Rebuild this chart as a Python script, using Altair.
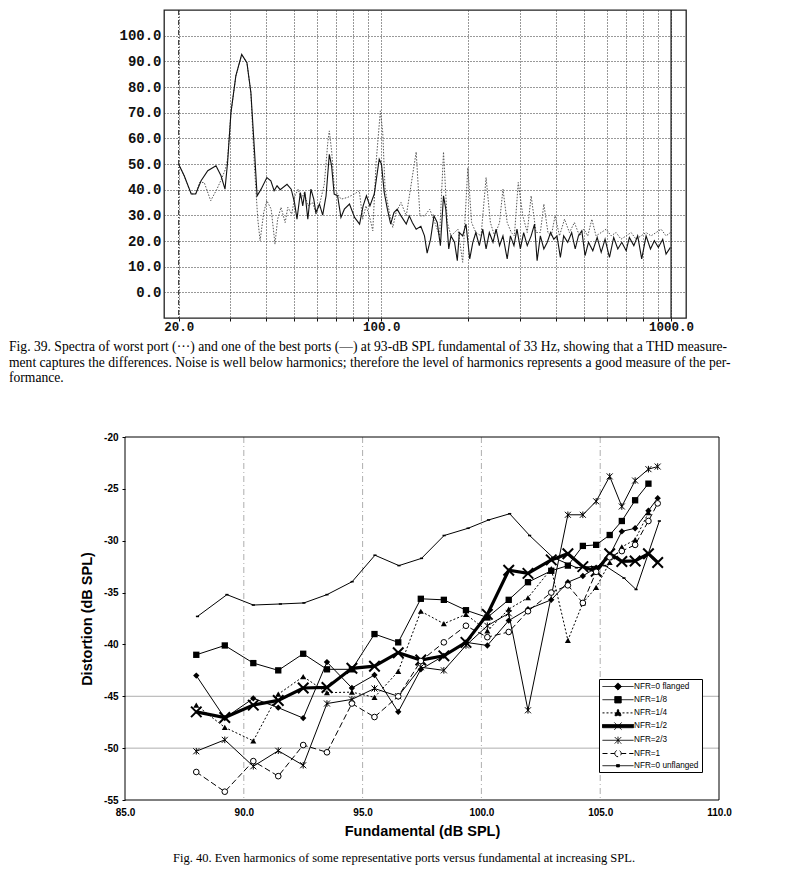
import altair as alt
import pandas as pd

# ---------------- Fig. 39 : spectra (Hz, dB) ----------------
best_f = [20.0, 20.9, 22.1, 22.9, 23.9, 25.2, 26.9, 28.0, 28.9, 29.5, 30.3, 31.5, 33.0, 34.4, 35.5, 36.5,
          37.3, 38.5, 40.3, 41.6, 42.7, 43.7, 44.8, 47.3, 48.9, 50.2, 51.2, 52.6, 53.6, 54.5, 55.8, 57.2,
          58.5, 59.5, 61.2, 62.8, 64.5, 66.2, 67.4, 68.8, 70.7, 72.6, 74.6, 77.7, 80.9, 84.2, 86.6, 88.9,
          91.4, 94.6, 98.4, 100.2, 102.4, 105.0, 107.8, 110.6, 113.5,
          117, 122, 125, 128, 132, 137, 141, 144, 148, 152, 156, 160, 164, 167, 171, 174, 179, 183, 186, 191,
          196, 202, 207, 212, 218, 224, 230, 236, 243, 249, 256, 263, 272, 279, 287, 294, 302, 310, 319, 329,
          338, 345, 354, 364, 374, 384, 394, 404, 415, 426, 440, 454, 467, 479, 492, 505, 519, 537, 556, 574,
          592, 613, 634, 655, 676, 700, 718, 744, 767, 792, 820, 849, 876, 904, 936, 961, 995]
best_db = [49.9, 45.4, 38.3, 38.3, 43.5, 47.4, 49.3, 45.4, 40.2, 50.6, 70.0, 84.3, 92.7, 89.5, 77.8, 55.8,
           37.6, 40.2, 44.7, 43.4, 39.6, 41.5, 40.0, 42.1, 40.2, 35.0, 28.5, 38.9, 33.7, 39.2, 28.5, 40.2,
           36.3, 31.1, 34.4, 30.1, 37.6, 53.8, 49.3, 38.3, 37.6, 29.2, 32.4, 34.4, 29.2, 26.6, 33.7, 37.6,
           33.7, 38.3, 51.9, 49.9, 38.9, 32.4, 26.6, 31.1, 32.4,
           29.8, 26.6, 29.8, 27.2, 24.6, 25.7, 22.0, 15.3, 20.7, 29.8, 27.2, 18.2, 37.6, 32.4, 16.9, 22.0, 19.5, 12.3, 23.3, 22.0,
           26.6, 13.0, 19.5, 23.3, 18.2, 24.6, 16.9, 23.3, 19.5, 24.6, 18.2, 22.0, 13.0, 22.0, 18.2, 24.6, 16.9, 23.3, 18.2, 22.0,
           26.6, 12.3, 22.0, 16.9, 19.5, 23.3, 20.7, 22.0, 13.6, 22.0, 19.5, 23.3, 16.9, 22.0, 24.0, 14.3, 19.5, 16.2, 21.4, 15.6,
           20.7, 13.6, 21.4, 16.9, 19.5, 16.2, 21.4, 18.2, 22.0, 13.0, 22.0, 16.9, 20.1, 17.5, 20.7, 14.9, 17.5]

worst_f = [20.0, 20.9, 22.1, 22.9, 23.6, 24.5, 25.8, 27.1, 28.1, 29.0, 29.5, 30.3, 31.5, 33.0, 34.4, 35.5,
           36.5, 37.5, 38.2, 39.3, 40.3, 41.7, 43.0, 43.9, 45.1, 46.6, 47.6, 49.1, 50.4, 51.7, 52.9, 54.3,
           55.8, 58.0, 59.6, 61.1, 63.6, 65.4, 66.2, 67.5, 68.9, 72.7, 76.6, 80.8, 84.0, 86.3, 88.6, 91.0,
           93.5, 96.0, 99.3, 101.2, 103.1, 106.7, 109.6, 112.5,
           117, 122, 132, 136, 141, 147, 153, 159, 164, 169, 174, 184, 191, 199, 205, 212, 221, 230, 238, 246,
           256, 263, 272, 281, 288, 297, 308, 319, 329, 342, 354, 364, 376, 386, 398, 412, 429, 446, 464, 483,
           500, 516, 533, 551, 574, 597, 621, 646, 672, 700, 728, 757, 788, 820, 853, 888, 924, 961, 995]
worst_db = [49.9, 45.4, 38.3, 38.5, 42.8, 42.8, 35.7, 40.2, 44.1, 48.0, 52.0, 70.0, 84.3, 92.5, 89.5, 77.8,
            49.3, 28.5, 20.1, 31.1, 35.7, 32.4, 18.8, 28.5, 33.1, 27.2, 33.1, 30.5, 37.6, 40.2, 36.3, 38.9,
            33.7, 35.0, 30.5, 33.7, 42.1, 58.4, 62.9, 54.5, 40.2, 36.3, 37.0, 38.3, 39.6, 28.5, 33.7, 29.8,
            24.0, 50.6, 70.7, 62.3, 40.2, 31.1, 25.3, 31.1,
            35.0, 29.8, 54.7, 29.8, 29.8, 32.4, 27.2, 22.0, 54.7, 27.2, 22.0, 24.6, 11.7, 48.6, 27.2, 23.3, 22.0, 44.7, 27.2, 22.0,
            27.2, 40.2, 27.2, 23.3, 22.0, 42.8, 29.8, 23.3, 37.6, 23.3, 23.3, 34.4, 23.3, 22.0, 29.8, 22.0, 28.5, 23.3, 27.2, 22.0,
            24.6, 22.0, 28.5, 22.0, 23.3, 24.6, 22.0, 23.3, 20.7, 22.0, 23.3, 20.7, 22.0, 23.3, 22.0, 23.3, 24.6, 22.0, 23.3]

freq_ticks = [20, 30, 40, 50, 60, 70, 80, 90, 100, 200, 300, 400, 500, 600, 700, 800, 900, 1000]
db_ticks = [0, 10, 20, 30, 40, 50, 60, 70, 80, 90, 100]

caption39 = ("Fig. 39. Spectra of worst port (\u00b7\u00b7\u00b7) and one of the best ports (\u2014) at 93-dB SPL fundamental of 33 Hz, showing that a THD measure-\n"
             "ment captures the differences. Noise is well below harmonics; therefore the level of harmonics represents a good measure of the per-\n"
             "formance.")

# ---------------- Fig. 40 : distortion vs fundamental ----------------
series_names = ["NFR=0 flanged", "NFR=1/8", "NFR=1/4", "NFR=1/2", "NFR=2/3", "NFR=1", "NFR=0 unflanged"]

flanged_x = [88.0, 89.2, 90.4, 91.45, 92.5, 93.5, 94.55, 95.5, 96.5, 97.45, 98.42, 99.35, 100.25, 101.15,
             101.96, 102.94, 103.64, 104.27, 104.83, 105.4, 105.91, 106.47, 107.03, 107.42]
flanged_y = [-43.0, -47.1, -45.2, -46.1, -47.1, -41.7, -44.2, -42.95, -46.5, -42.4, -41.1, -39.8, -40.1, -37.7,
             -36.6, -35.7, -34.0, -33.4, -32.6, -31.4, -29.1, -28.8, -27.1, -25.9]
n18_x = [88.0, 89.2, 90.4, 91.45, 92.5, 93.5, 94.55, 95.5, 96.5, 97.45, 98.42, 99.35, 100.25, 101.15,
         101.96, 102.94, 103.64, 104.27, 104.83, 105.4, 105.91, 106.47, 107.03]
n18_y = [-41.0, -40.1, -41.8, -42.5, -40.9, -42.4, -42.4, -39.0, -39.8, -35.6, -35.7, -36.7, -37.4, -35.7,
         -34.0, -32.9, -32.4, -30.5, -30.4, -29.45, -28.1, -26.1, -24.5]
n14_x = [88.0, 89.2, 90.4, 91.45, 92.5, 93.5, 94.55, 95.5, 96.5, 97.45, 98.42, 99.35, 100.25, 101.15,
         101.96, 102.94, 103.64, 104.27, 104.83, 105.4, 105.91, 106.47, 107.03]
n14_y = [-45.85, -48.0, -49.3, -44.8, -43.1, -44.65, -44.6, -45.1, -42.6, -36.8, -38.0, -37.1, -38.7, -36.6,
         -35.5, -32.7, -39.6, -36.0, -34.5, -32.1, -30.6, -29.9, -27.3]
n12_x = [88.0, 89.2, 90.4, 91.45, 92.5, 93.5, 94.55, 95.5, 96.5, 97.45, 98.42, 99.35, 100.25, 101.15,
         101.96, 102.94, 103.64, 104.27, 104.83, 105.4, 105.91, 106.47, 107.03, 107.42]
n12_y = [-46.5, -47.05, -45.85, -45.4, -44.2, -44.15, -42.3, -42.1, -40.8, -41.5, -41.1, -39.8, -37.1, -32.85,
         -33.15, -31.85, -31.25, -32.5, -32.95, -31.25, -32.0, -31.95, -31.25, -32.1]
n23_x = [88.0, 89.2, 90.4, 91.45, 92.5, 93.5, 94.55, 95.5, 96.5, 97.45, 98.42, 99.35, 100.25, 101.15,
         101.96, 103.64, 104.27, 104.83, 105.4, 105.91, 106.47, 107.03, 107.42]
n23_y = [-50.3, -49.2, -51.75, -50.25, -51.65, -45.7, -45.3, -44.25, -45.0, -42.2, -42.5, -40.1, -38.2, -37.0,
         -46.35, -27.5, -27.5, -26.2, -23.8, -26.7, -24.2, -23.1, -22.85]
n1_x = [88.0, 89.2, 90.4, 91.45, 92.5, 93.5, 94.55, 95.5, 96.5, 97.45, 98.42, 99.35, 100.25, 101.15,
        101.96, 102.94, 103.64, 104.27, 104.83, 105.4, 105.91, 106.47, 107.03, 107.42]
n1_y = [-52.3, -54.2, -51.25, -52.7, -49.7, -50.4, -45.7, -47.0, -45.0, -41.6, -39.8, -38.2, -39.3, -38.8,
        -36.8, -35.0, -34.3, -36.0, -33.0, -31.6, -31.0, -30.4, -28.1, -26.4]
unfl_x = [88.05, 89.29, 90.4, 91.54, 92.53, 93.5, 94.56, 95.52, 96.53, 97.48, 98.43, 99.44, 100.3, 101.19,
          102.03, 103.0, 104.0, 105.2, 106.0, 106.51, 107.49]
unfl_y = [-37.3, -35.2, -36.2, -36.1, -36.0, -35.2, -33.95, -31.4, -32.4, -31.7, -29.5, -28.8, -28.0, -27.4,
          -29.5, -31.6, -32.6, -32.4, -33.6, -34.7, -28.1]

fund_ticks = [85, 90, 95, 100, 105, 110]
dist_ticks = [-20, -25, -30, -35, -40, -45, -50, -55]
vgrid_vals = [90, 95, 100, 105]
hgrid_vals = [-45, -50]

caption40 = "Fig. 40. Even harmonics of some representative ports versus fundamental at increasing SPL."

# ---------------- build tables ----------------
top_df = pd.DataFrame({
    "f": best_f + worst_f,
    "db": best_db + worst_db,
    "port": ["best"] * len(best_f) + ["worst"] * len(worst_f),
})

pairs = [(flanged_x, flanged_y), (n18_x, n18_y), (n14_x, n14_y), (n12_x, n12_y),
         (n23_x, n23_y), (n1_x, n1_y), (unfl_x, unfl_y)]
rows = []
for name, (xs, ys) in zip(series_names, pairs):
    for a, b in zip(xs, ys):
        rows.append({"series": name, "fund": a, "dist": b})
bot_df = pd.DataFrame(rows)

# ---------------- top chart ----------------
xs_top = alt.Scale(type="log", domain=[17.8, 1126], nice=False)
ys_top = alt.Scale(domain=[-10, 110], nice=False, zero=False)

x_axis_top = alt.Axis(
    values=freq_ticks,
    labelExpr="datum.value == 20 || datum.value == 100 || datum.value == 1000 ? format(datum.value, '.1f') : ''",
    grid=True, gridDash=[1, 2], gridColor="#333", gridWidth=1,
    domain=False, ticks=True, tickSize=3, tickColor="#111",
    labelFont="Liberation Mono", labelFontWeight="bold", labelFontSize=12.5, labelColor="#111",
    labelPadding=-1, labelFlush=False, labelOverlap=False, title=None)
y_axis_top = alt.Axis(
    values=db_ticks, labelExpr="format(datum.value, '.1f')",
    grid=True, gridDash=[1, 2], gridColor="#333", gridWidth=1,
    domain=False, ticks=False, tickCount=12,
    labelFont="Liberation Mono", labelFontWeight="bold", labelFontSize=14, labelColor="#111",
    labelPadding=3, labelOverlap=False, labelFlush=False, labelSeparation=0, labelBound=False,
    title=None)

worst_line = alt.Chart(top_df).transform_filter(alt.datum.port == "worst").mark_line(
    color="#555", strokeWidth=1, strokeDash=[1.5, 1.5]).encode(
    x=alt.X("f:Q", scale=xs_top, axis=x_axis_top),
    y=alt.Y("db:Q", scale=ys_top, axis=y_axis_top))
best_line = alt.Chart(top_df).transform_filter(alt.datum.port == "best").mark_line(
    color="#111", strokeWidth=1.1).encode(
    x=alt.X("f:Q", scale=xs_top, axis=x_axis_top),
    y=alt.Y("db:Q", scale=ys_top, axis=y_axis_top))
edge_df = pd.DataFrame({"f": [20, 1000], "kind": ["a", "b"]})
rule20 = alt.Chart(edge_df).transform_filter(alt.datum.kind == "a").mark_rule(
    color="#222", strokeWidth=1, strokeDash=[5, 2, 1, 2]).encode(
    x=alt.X("f:Q", scale=xs_top, axis=x_axis_top))
rule1000 = alt.Chart(edge_df).transform_filter(alt.datum.kind == "b").mark_rule(
    color="#111", strokeWidth=1.2).encode(x=alt.X("f:Q", scale=xs_top, axis=x_axis_top))
cap39 = alt.Chart(pd.DataFrame({"t": [caption39]})).mark_text(
    align="left", baseline="top", font="Liberation Serif", fontSize=13.6, lineHeight=15.5,
    lineBreak="\n", color="black").encode(x=alt.value(-155), y=alt.value(330), text="t:N")

top = alt.layer(rule20, worst_line, best_line, rule1000, cap39).properties(
    width=522, height=308, view=alt.ViewBackground(stroke="#222", strokeWidth=1.3))

# ---------------- bottom chart ----------------
xs_b = alt.Scale(domain=[85, 110], range=[-39, 555], nice=False, zero=False)
ys_b = alt.Scale(domain=[-55, -20], nice=False, zero=False)

x_axis_b = alt.Axis(
    values=fund_ticks, format=".1f", grid=False, domain=False, ticks=False,
    labelFont="Liberation Sans", labelFontWeight="bold", labelFontSize=10, labelColor="black",
    labelPadding=7, labelFlush=False,
    title="Fundamental (dB SPL)", titleFont="Liberation Sans", titleFontSize=14.5,
    titleFontWeight="bold", titleColor="black", titlePadding=7)
y_axis_b = alt.Axis(
    values=dist_ticks, labelExpr="'' + datum.value", offset=39, grid=False, domain=False,
    ticks=True, tickSize=3, tickColor="black",
    labelFont="Liberation Sans", labelFontWeight="bold", labelFontSize=10, labelColor="black",
    labelPadding=4, labelOverlap=False,
    title="Distortion (dB SPL)", titleFont="Liberation Sans", titleFontSize=14.5,
    titleFontWeight="bold", titleColor="black", titlePadding=9)

vgrid = alt.Chart(pd.DataFrame({"v": vgrid_vals})).mark_rule(
    color="#999", strokeWidth=0.8, strokeDash=[6, 3, 1, 3]).encode(x=alt.X("v:Q", scale=xs_b))
hgrid = alt.Chart(pd.DataFrame({"v": hgrid_vals, "a": [85, 85], "b": [110, 110]})).mark_rule(
    color="#999", strokeWidth=0.8).encode(
    y=alt.Y("v:Q", scale=ys_b), x=alt.X("a:Q", scale=xs_b), x2="b:Q")
frame = alt.Chart(pd.DataFrame({"a": [85], "b": [110], "c": [-55], "d": [-20]})).mark_rect(
    fillOpacity=0, stroke="black", strokeWidth=1).encode(
    x=alt.X("a:Q", scale=xs_b, axis=x_axis_b), x2="b:Q",
    y=alt.Y("c:Q", scale=ys_b, axis=y_axis_b), y2="d:Q")

X_PATH = "M-1,-1L1,1M-1,1L1,-1"
AST_PATH = "M-1,-1L1,1M-1,1L1,-1M0,-1.1V1.1"
DASH_PATH = "M-1,-0.5H1V0.5H-1Z"

line_style = {
    "NFR=0 flanged": dict(strokeWidth=1),
    "NFR=1/8": dict(strokeWidth=1),
    "NFR=1/4": dict(strokeWidth=1, strokeDash=[2, 2]),
    "NFR=1/2": dict(strokeWidth=3.2),
    "NFR=2/3": dict(strokeWidth=1),
    "NFR=1": dict(strokeWidth=1, strokeDash=[6, 3]),
    "NFR=0 unflanged": dict(strokeWidth=1),
}
point_style = {
    "NFR=0 flanged": dict(shape="diamond", size=40, filled=True, color="black"),
    "NFR=1/8": dict(shape="square", size=40, filled=True, color="black"),
    "NFR=1/4": dict(shape="triangle-up", size=36, filled=True, color="black"),
    "NFR=1/2": dict(shape=X_PATH, size=110, filled=False, color="black", strokeWidth=2),
    "NFR=2/3": dict(shape=AST_PATH, size=36, filled=False, color="black", strokeWidth=1),
    "NFR=1": dict(shape="circle", size=32, fill="white", stroke="black", strokeWidth=1),
    "NFR=0 unflanged": dict(shape=DASH_PATH, size=10, filled=True, color="black"),
}

series_layers = []
for name in series_names:
    base = alt.Chart(bot_df).transform_filter(alt.datum.series == name)
    ln = base.mark_line(color="black", **line_style[name]).encode(
        x=alt.X("fund:Q", scale=xs_b), y=alt.Y("dist:Q", scale=ys_b))
    pt = base.mark_point(opacity=1, **point_style[name]).encode(
        x=alt.X("fund:Q", scale=xs_b), y=alt.Y("dist:Q", scale=ys_b))
    series_layers += [ln, pt]

# legend built by the library from a layer with no visible marks
C = 2.875
leg_shapes = [
    f"M-1,0H6.75M{C},-0.9L{C+0.9},0L{C},0.9L{C-0.9},0Z",
    f"M-1,0H6.75M{C-0.8},-0.8H{C+0.8}V0.8H{C-0.8}Z",
    f"M-1,0H6.75M{C},-0.9L{C+0.9},0.7H{C-0.9}Z",
    f"M-1,-0.4H6.75V0.4H-1ZM{C-0.9},-0.9L{C+0.9},0.9M{C-0.9},0.9L{C+0.9},-0.9",
    f"M-1,0H6.75M{C-0.8},-0.8L{C+0.8},0.8M{C-0.8},0.8L{C+0.8},-0.8M{C},-0.9V0.9",
    f"M-1,0H{C-0.8}M{C+0.8},0H6.75M{C-0.8},0A0.8,0.8 0 1,0 {C+0.8},0A0.8,0.8 0 1,0 {C-0.8},0Z",
    f"M-1,0H6.75M{C-0.35},-0.3H{C+0.35}V0.3H{C-0.35}Z",
]
leg = alt.Legend(title=None, orient="none", legendX=435, legendY=242, symbolSize=64,
                 labelFont="Liberation Sans", labelFontSize=8.2, labelColor="black",
                 labelOffset=23, rowPadding=1.2, padding=3, strokeColor="black",
                 fillColor="white", symbolStrokeColor="black", symbolStrokeWidth=1,
                 labelLimit=200)
legend_layer = alt.Chart(bot_df).transform_filter("false").mark_point(
    stroke="black", strokeWidth=1, opacity=1).encode(
    x=alt.X("fund:Q", scale=xs_b), y=alt.Y("dist:Q", scale=ys_b),
    shape=alt.Shape("series:N", scale=alt.Scale(domain=series_names, range=leg_shapes), legend=leg),
    strokeDash=alt.StrokeDash("series:N", scale=alt.Scale(
        domain=series_names, range=[[1, 0], [1, 0], [2, 2], [1, 0], [1, 0], [5, 3], [1, 0]]), legend=leg),
    fill=alt.Fill("series:N", scale=alt.Scale(
        domain=series_names, range=["black", "black", "black", "black", "black", "white", "black"]), legend=leg),
    stroke=alt.Stroke("series:N", scale=alt.Scale(
        domain=series_names, range=["black"] * 7), legend=leg),
)

cap40 = alt.Chart(pd.DataFrame({"t": [caption40]})).mark_text(
    align="center", baseline="middle", font="Liberation Serif", fontSize=12.5,
    color="black").encode(x=alt.value(240), y=alt.value(421), text="t:N")

bottom = alt.layer(vgrid, hgrid, frame, *series_layers, legend_layer, cap40).properties(
    width=555, height=363, view=alt.ViewBackground(stroke="transparent"))

chart = alt.vconcat(top, bottom, spacing=45).resolve_scale(
    shape="independent", strokeDash="independent", fill="independent", stroke="independent"
).properties(padding=0).configure(font="Liberation Sans")

chart.save("out.html", embed_options={"renderer": "svg", "actions": False})
